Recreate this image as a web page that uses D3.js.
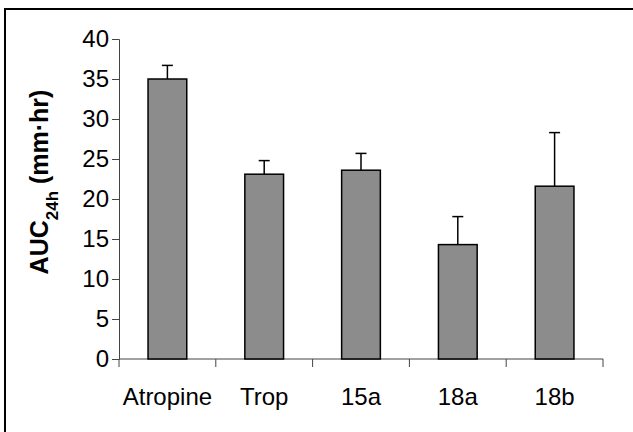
<!DOCTYPE html>
<html>
<head>
<meta charset="utf-8">
<script src="https://cdn.jsdelivr.net/npm/d3@7"></script>
<style>
  body { margin: 0; background: #fff; }
  svg { display: block; font-family: Arial, "Liberation Sans", Helvetica, sans-serif; }
</style>
</head>
<body>
<svg id="chart" width="633" height="432"></svg>
<script>
'use strict';

// Data
const categories = ['Atropine', 'Trop', '15a', '18a', '18b'];
const means = [35.0, 23.1, 23.6, 14.3, 21.6];
const errorTops = [36.7, 24.8, 25.7, 17.8, 28.3];
const yTicks = [0, 5, 10, 15, 20, 25, 30, 35, 40];

const svg = d3.select('#chart');
const margin = { left: 119, right: 30, top: 39, bottom: 73 };
const width = 633, height = 432;

// Frame (top and left edges only, as in the reference)
svg.append('path')
    .attr('d', 'M5,432 V9 H633')
    .attr('fill', 'none')
    .attr('stroke', '#000')
    .attr('stroke-width', 2);

const x = d3.scaleBand()
    .domain(categories)
    .range([margin.left, width - margin.right])
    .paddingInner(0.6)
    .paddingOuter(0.3);

const y = d3.scaleLinear()
    .domain([0, 40])
    .range([height - margin.bottom, margin.top]);

// Y axis
const yAxis = svg.append('g')
    .attr('transform', `translate(${margin.left},0)`)
    .call(d3.axisLeft(y).tickValues(yTicks).tickSize(7).tickPadding(3).tickFormat(d3.format('d')));
yAxis.select('.domain').attr('stroke', '#444');
yAxis.selectAll('.tick line').attr('stroke', '#444');
yAxis.selectAll('text').attr('font-size', 24).attr('fill', '#000').attr('font-family', 'Arial, "Liberation Sans", sans-serif');

// X axis with ticks at category boundaries
const boundaries = d3.range(categories.length + 1).map(i => margin.left + i * (width - margin.right - margin.left) / categories.length);
const xg = svg.append('g');
xg.append('line')
    .attr('x1', margin.left).attr('x2', width - margin.right)
    .attr('y1', y(0)).attr('y2', y(0))
    .attr('stroke', '#444');
xg.selectAll('line.bt')
    .data(boundaries)
    .enter()
    .append('line')
    .attr('class', 'bt')
    .attr('x1', d => d).attr('x2', d => d)
    .attr('y1', y(0)).attr('y2', y(0) + 8)
    .attr('stroke', '#444');
xg.selectAll('text')
    .data(categories)
    .enter()
    .append('text')
    .attr('x', d => x(d) + x.bandwidth() / 2)
    .attr('y', 405)
    .attr('text-anchor', 'middle')
    .attr('font-size', 24)
    .text(d => d);

// Error bars (upper only)
const eg = svg.append('g').attr('stroke', '#000').attr('stroke-width', 1.5);
categories.forEach((c, i) => {
    const cx = x(c) + x.bandwidth() / 2;
    eg.append('line').attr('x1', cx).attr('x2', cx).attr('y1', y(means[i])).attr('y2', y(errorTops[i]));
    eg.append('line').attr('x1', cx - 5.5).attr('x2', cx + 5.5).attr('y1', y(errorTops[i])).attr('y2', y(errorTops[i]));
});

// Bars
svg.append('g')
    .selectAll('rect')
    .data(categories)
    .enter()
    .append('rect')
    .attr('x', d => x(d))
    .attr('y', (d, i) => y(means[i]))
    .attr('width', x.bandwidth())
    .attr('height', (d, i) => y(0) - y(means[i]))
    .attr('fill', '#8c8c8c')
    .attr('stroke', '#000')
    .attr('stroke-width', 1.5);

// Y axis label with subscript
const label = svg.append('text')
    .attr('transform', 'translate(48,182) rotate(-90)')
    .attr('text-anchor', 'middle')
    .attr('font-size', 25)
    .attr('font-weight', 'bold');
label.append('tspan').text('AUC');
label.append('tspan').attr('baseline-shift', 'sub').attr('font-size', 17).text('24h');
label.append('tspan').text(' (mm\u00b7hr)');
</script>
</body>
</html>
